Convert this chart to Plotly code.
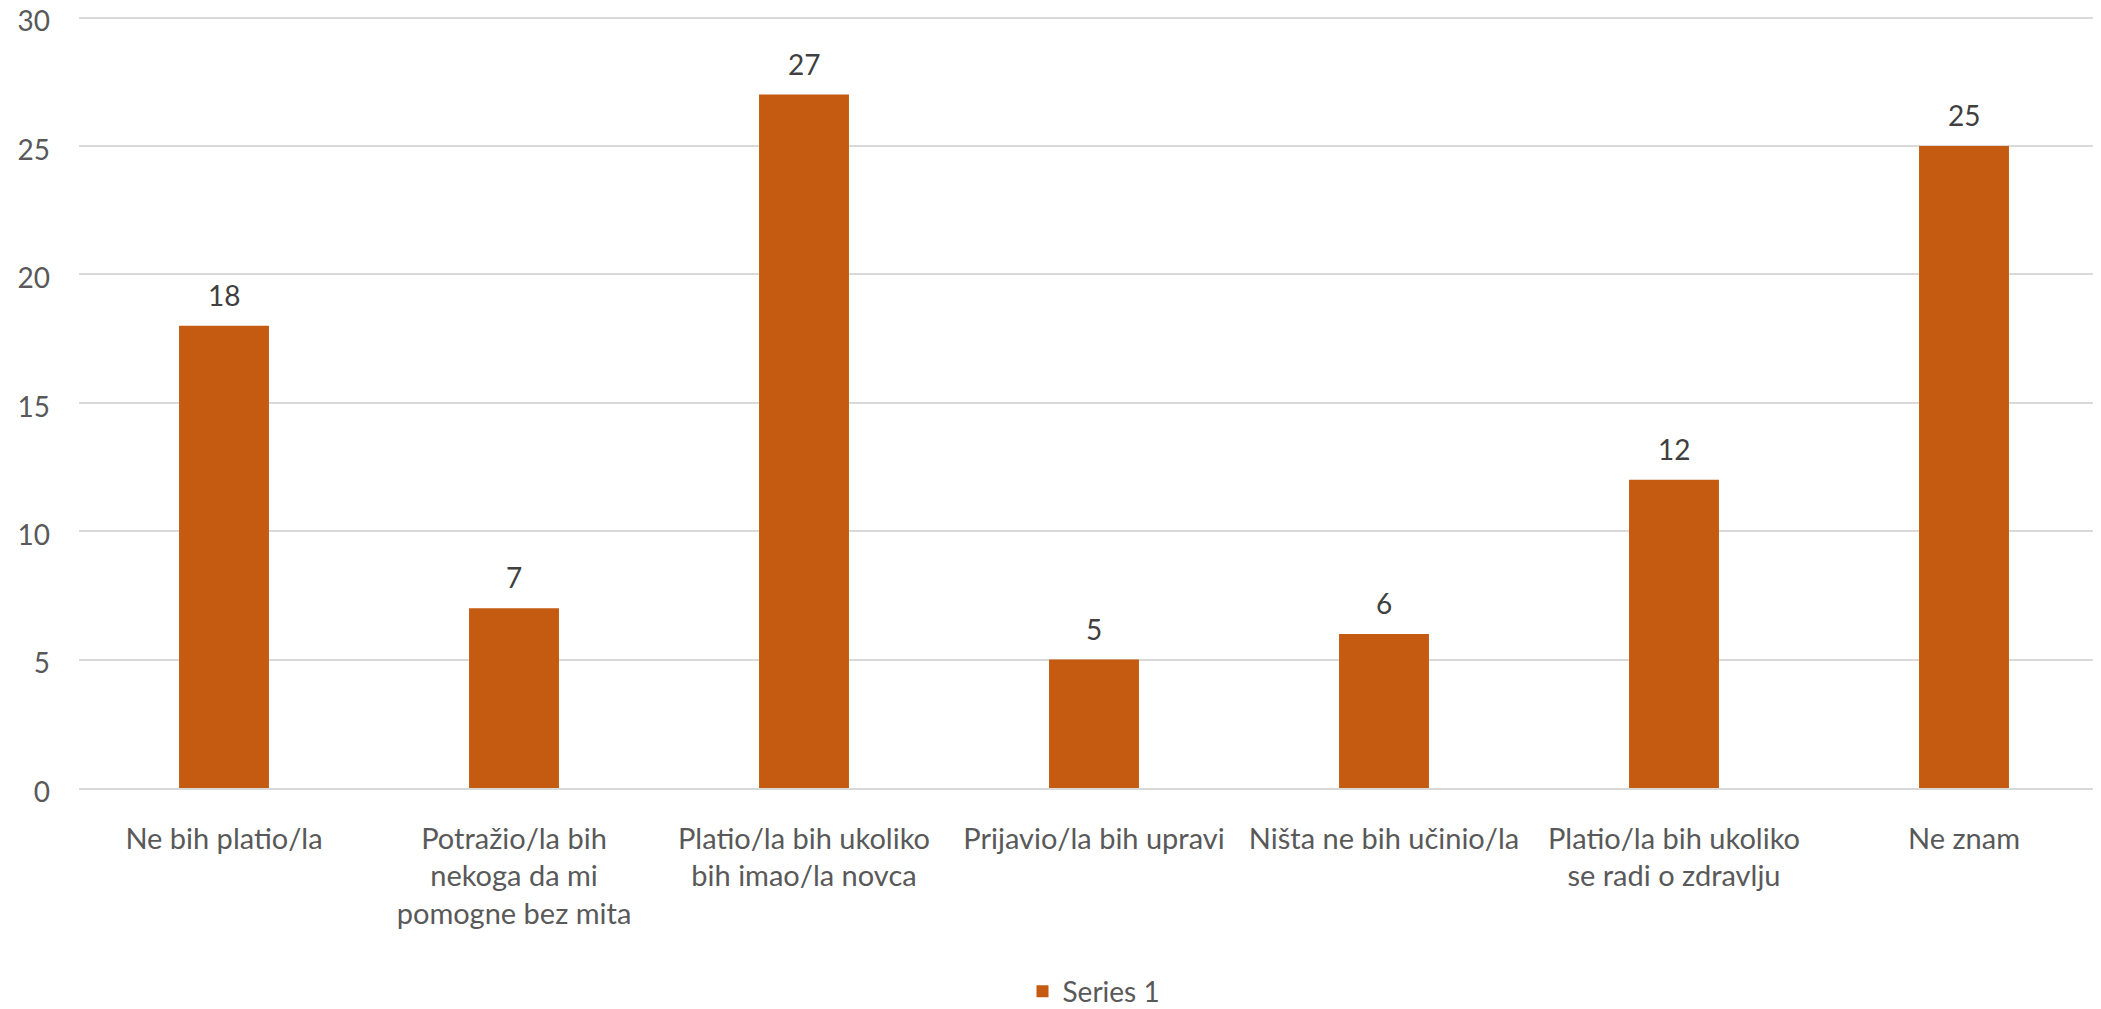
import plotly.graph_objects as go

categories = [
    "Ne bih platio/la",
    "Potražio/la bih<br>nekoga da mi<br>pomogne bez mita",
    "Platio/la bih ukoliko<br>bih imao/la novca",
    "Prijavio/la bih upravi",
    "Ništa ne bih učinio/la",
    "Platio/la bih ukoliko<br>se radi o zdravlju",
    "Ne znam",
]
values = [18, 7, 27, 5, 6, 12, 25]
series_name = "Series 1"
y_ticks = [0, 5, 10, 15, 20, 25, 30]

FONT = "Lato"
FS = 28
fig = go.Figure()
fig.add_trace(go.Bar(
    x=categories, y=values, name=series_name,
    marker=dict(color="#C55A11", line=dict(width=0)),
))
for c, v in zip(categories, values):
    fig.add_annotation(x=c, y=v, text=str(v), showarrow=False, yanchor="bottom",
                       yshift=12, font=dict(family=FONT, size=FS, color="#404040"))
fig.update_layout(
    width=2101, height=1009,
    margin=dict(l=71, r=0, t=8, b=213),
    paper_bgcolor="white", plot_bgcolor="white",
    bargap=0.69,
    showlegend=True,
    legend=dict(orientation="h", x=0.5, xanchor="center", y=-0.2636, yanchor="middle",
                font=dict(family=FONT, size=FS, color="#595959")),
    font=dict(family=FONT, size=FS, color="#595959"),
)
fig.update_yaxes(range=[0, 30.06], tickvals=y_ticks, showgrid=True, gridcolor="#D9D9D9",
                 gridwidth=1.5, zeroline=False, showline=False, automargin=False,
                 ticklabeloverflow="allow", ticklabelshift=4,
                 tickfont=dict(family=FONT, size=FS, color="#595959"),
                 ticklabelstandoff=28)
fig.update_xaxes(showline=True, linecolor="#D9D9D9", linewidth=1.5, showgrid=False,
                 automargin=False,
                 tickfont=dict(family=FONT, size=29, color="#595959"),
                 ticklabelstandoff=24)
fig.write_html("out.html")
